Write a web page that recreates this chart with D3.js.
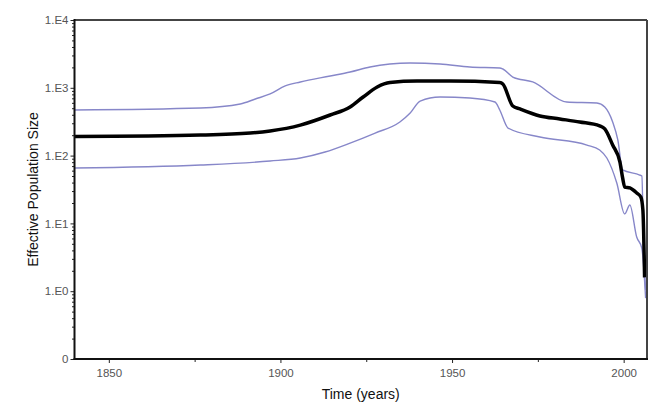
<!DOCTYPE html>
<html>
<head>
<meta charset="utf-8">
<script src="https://cdn.jsdelivr.net/npm/d3@7"></script>
<style>
  body { margin: 0; background: #fff; }
  svg { font-family: "Liberation Sans", Arial, sans-serif; }
  .tick text { fill: #555; font-size: 11.5px; }
  .tick line { stroke: #222; }
</style>
</head>
<body>
<div id="chart"></div>
<script>
// chart size
var width = 665,
    height = 413;

// plot box
var plotLeft = 74.5, plotRight = 647, plotTop = 20, plotBottom = 359;

// median line (year, effective population size)
var medianYears = [1840, 1876.7, 1891.2, 1897.0, 1905.8, 1914.5, 1920.3, 1924.1, 1928.2, 1931.9,
    1939.8, 1949.4, 1963.9, 1964.8, 1967.7, 1969.8, 1975.6, 1981.4, 1987.2, 1993.0,
    1994.5, 1996.8, 1998.9, 1999.7, 2000.3, 2001.8, 2003.8, 2005.0, 2005.6, 2006.1];
var medianNe = [191, 201, 215, 231, 282, 397, 521, 731, 1028, 1197,
    1259, 1259, 1197, 1138, 539, 487, 384, 347, 313, 274,
    247, 143, 80.5, 46.8, 34.4, 33.3, 28.1, 24.5, 15.8, 1.6];

// upper 95% HPD
var upperYears = [1840, 1876.7, 1888.3, 1892.7, 1897.0, 1901.4, 1905.8, 1914.5, 1920.3, 1926.1,
    1931.9, 1937.8, 1946.5, 1955.2, 1963.9, 1964.8, 1967.7, 1973.5, 1983.4, 1992.2,
    1994.5, 1996.8, 1998.3, 1999.7, 2004.7, 2005.3, 2005.8, 2006.4];
var upperNe = [471, 504, 577, 684, 811, 1064, 1219, 1493, 1710, 2028,
    2244, 2323, 2244, 2028, 1960, 1893, 1442, 1219, 618, 597,
    521, 313, 170, 61.4, 51.7, 50, 4.8, 1.04];

// lower 95% HPD
var lowerYears = [1840, 1876.7, 1897.0, 1905.8, 1913.0, 1920.3, 1927.6, 1934.8, 1937.8, 1940.7,
    1946.5, 1955.2, 1962.5, 1963.9, 1966.3, 1975.6, 1989.3, 1993.0, 1995.1, 1998.0,
    2000.3, 2001.8, 2003.8, 2005.3, 2006.4];
var lowerNe = [65.6, 72.6, 83.2, 92.2, 113, 153, 215, 313, 425, 638,
    731, 707, 618, 471, 255, 188, 143, 121, 92.2, 39.4,
    13.8, 18.7, 6.3, 4.3, 0.79];

// ticks
var xMajor = [1850, 1900, 1950, 2000];
var xMinor = [1875, 1925, 1975];
var yMajor = [0.1, 1, 10, 100, 1000, 10000];
var yTickLabels = ["0", "1.E0", "1.E1", "1.E2", "1.E3", "1.E4"];

var svg = d3.select("#chart")
    .append("svg")
    .attr("width", width)
    .attr("height", height);

var xScale = d3.scaleLinear()
    .domain([1840, 2006.8])
    .range([plotLeft, plotRight]);

var yScale = d3.scaleLog()
    .domain([0.1, 10000])
    .range([plotBottom, plotTop]);

svg.append("clipPath")
    .attr("id", "clip")
    .append("rect")
    .attr("x", plotLeft)
    .attr("y", plotTop)
    .attr("width", plotRight - plotLeft)
    .attr("height", plotBottom - plotTop);

// lines
var line = d3.line()
    .x(function(d) { return xScale(d[0]); })
    .y(function(d) { return yScale(d[1]); })
    .curve(d3.curveMonotoneX);

var lines = svg.append("g").attr("clip-path", "url(#clip)");

lines.append("path")
    .datum(d3.zip(upperYears, upperNe))
    .attr("fill", "none")
    .attr("stroke", "#8787c9")
    .attr("stroke-width", 1.4)
    .attr("d", line);

lines.append("path")
    .datum(d3.zip(lowerYears, lowerNe))
    .attr("fill", "none")
    .attr("stroke", "#8787c9")
    .attr("stroke-width", 1.4)
    .attr("d", line);

lines.append("path")
    .datum(d3.zip(medianYears, medianNe))
    .attr("fill", "none")
    .attr("stroke", "#000")
    .attr("stroke-width", 3.5)
    .attr("stroke-linejoin", "round")
    .attr("d", line);

// x axis
var xAxis = d3.axisBottom(xScale)
    .tickValues(xMajor)
    .tickFormat(d3.format("d"))
    .tickSize(4)
    .tickPadding(6);
var gx = svg.append("g")
    .attr("transform", "translate(0," + plotBottom + ")")
    .call(xAxis);
gx.select(".domain").remove();

var gx2 = svg.append("g")
    .attr("transform", "translate(0," + plotBottom + ")")
    .call(d3.axisBottom(xScale).tickValues(xMinor).tickFormat("").tickSize(3));
gx2.select(".domain").remove();

// y axis
var yAxis = d3.axisLeft(yScale)
    .tickValues(yMajor)
    .tickFormat(function(d, i) { return yTickLabels[i]; })
    .tickSize(4)
    .tickPadding(2);
var gy = svg.append("g")
    .attr("transform", "translate(" + plotLeft + ",0)")
    .call(yAxis);
gy.select(".domain").remove();

var yMinor = yScale.ticks().filter(function(d) { return yMajor.indexOf(d) < 0; });
var gy2 = svg.append("g")
    .attr("transform", "translate(" + plotLeft + ",0)")
    .call(d3.axisLeft(yScale).tickValues(yMinor).tickFormat("").tickSize(2.5));
gy2.select(".domain").remove();

// frame
svg.append("line")
    .attr("x1", plotLeft).attr("x2", plotRight)
    .attr("y1", plotTop).attr("y2", plotTop)
    .attr("stroke", "#444").attr("stroke-width", 2);
svg.append("line")
    .attr("x1", plotRight).attr("x2", plotRight)
    .attr("y1", plotTop).attr("y2", plotBottom)
    .attr("stroke", "#444").attr("stroke-width", 2);
svg.append("line")
    .attr("x1", plotLeft).attr("x2", plotLeft)
    .attr("y1", plotTop - 1).attr("y2", plotBottom + 1)
    .attr("stroke", "#111").attr("stroke-width", 2);
svg.append("line")
    .attr("x1", plotLeft - 1).attr("x2", plotRight + 1)
    .attr("y1", plotBottom).attr("y2", plotBottom)
    .attr("stroke", "#111").attr("stroke-width", 2);

// titles
svg.append("text")
    .text("Time (years)")
    .attr("x", (plotLeft + plotRight) / 2)
    .attr("y", 399)
    .attr("text-anchor", "middle")
    .attr("font-size", "14px")
    .attr("fill", "#111");

svg.append("text")
    .text("Effective Population Size")
    .attr("transform", "translate(38," + ((plotTop + plotBottom) / 2) + ") rotate(-90)")
    .attr("text-anchor", "middle")
    .attr("font-size", "14px")
    .attr("fill", "#111");
</script>
</body>
</html>
